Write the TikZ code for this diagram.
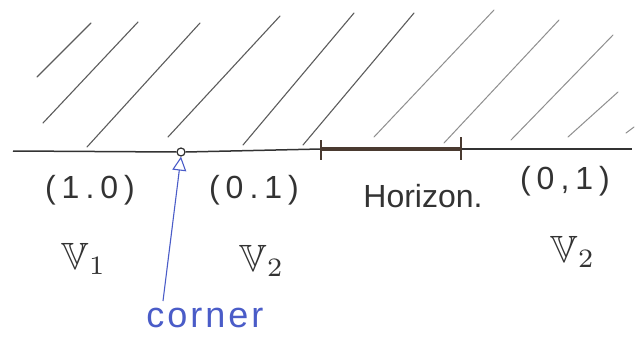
\documentclass[tikz,border=0pt]{standalone}
\usepackage{amssymb}
\usepackage{graphicx}
\usepackage{fontspec}
\setmainfont{Liberation Sans}
\usetikzlibrary{arrows.meta}
\definecolor{ink}{HTML}{333333}
\definecolor{hor}{HTML}{4A3A30}
\definecolor{pen}{HTML}{4A5CC8}
\newcommand{\chgap}{\hspace{6pt}}
\tikzset{
  hatch/.style={draw=ink!80, line width=1.1pt, line cap=round},
  hatchlight/.style={draw=ink!55, line width=1pt, line cap=round},
  lbl/.style={font=\fontsize{32}{34}\selectfont, text=ink, inner sep=0pt},
  vlbl/.style={text=ink, inner sep=0pt},
  tick/.style={draw=hor, line width=1.4pt}
}
\begin{document}
\begin{tikzpicture}[x=1pt,y=-1pt]
\useasboundingbox[fill=white] (0,0) rectangle (642,342);
% hatch lines
\draw[hatch] (37,77) -- (91,23);
\draw[hatch] (43,123) -- (138,22);
\draw[hatch] (87,147) -- (200,23);
\draw[hatch] (168,137) -- (280,16);
\draw[hatch] (243,145) -- (354,13);
\draw[hatch] (303,145) -- (414,13);
\draw[hatchlight] (374,137) -- (494,10);
\draw[hatchlight] (444,143) -- (559,20);
\draw[hatchlight] (511,140) -- (613,35);
\draw[hatchlight] (568,137) -- (618,92);
\draw[hatchlight] (626,133) -- (634,127);
% boundary line
\coordinate (L) at (13,151);
\node[circle, draw=ink, line width=1.2pt, minimum size=8pt, inner sep=0pt] (c) at (181,152) {};
\coordinate (h1) at (321,149);
\coordinate (h2) at (461,149);
\coordinate (R) at (632,149);
\draw[ink, line width=1.5pt] (L) -- (c.west);
\draw[ink, line width=1.5pt] (c.east) -- (h1);
\draw[hor, line width=4pt] (h1) -- (h2);
\draw[ink, line width=1.2pt] (h2) -- (R);
\draw[tick] (321,140) -- (321,160);
\draw[tick] (461,137) -- (461,160);
% labels
\node[lbl] (a) at (90,190) {(\chgap1\chgap.\chgap0\chgap)};
\node[lbl] (b) at (254,190) {(\chgap0\chgap.\chgap1\chgap)};
\node[lbl] (hz) at (423,196) {Horizon.};
\node[lbl] (d) at (565,181) {(\chgap0\chgap,\chgap1\chgap)};
\node[vlbl] (v1) at (84,259) {\scalebox{3.8}{$\mathbb{V}_1$}};
\node[vlbl] (v2) at (262,261) {\scalebox{3.8}{$\mathbb{V}_2$}};
\node[vlbl] (v3) at (573,252) {\scalebox{3.8}{$\mathbb{V}_2$}};
\node[font=\fontsize{36}{38}\selectfont, text=pen, inner sep=0pt] (cn) at (205,318) {c\hspace{3pt}o\hspace{3pt}r\hspace{3pt}n\hspace{3pt}e\hspace{3pt}r};
\draw[pen, line width=1.1pt, -{Triangle[open, length=14pt, width=14pt]}] (163,301) -- (c.south);
\end{tikzpicture}
\end{document}
